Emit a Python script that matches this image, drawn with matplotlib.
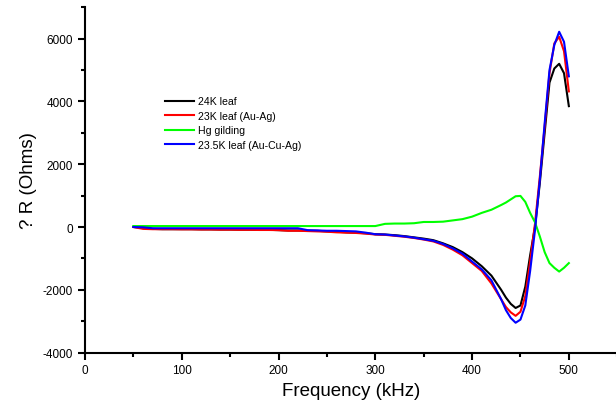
import matplotlib
matplotlib.use("Agg")
import matplotlib.pyplot as plt
from matplotlib.ticker import MultipleLocator

plt.rcParams['font.family'] = ['Liberation Sans', 'DejaVu Sans']
plt.rcParams['axes.unicode_minus'] = False

# frequency points (kHz)
freq = [50, 60, 70, 80, 90, 100, 110, 120, 130, 140, 150, 160, 170, 180, 190,
        200, 210, 220, 230, 240, 250, 260, 270, 280, 290, 300, 310, 320, 330,
        340, 350, 360, 370, 380, 390, 400, 410, 420, 430, 435, 440, 445, 450,
        455, 460, 465, 470, 475, 480, 485, 490, 495, 500]

# delta R (Ohms) for each sample
leaf_24k = [0, -30, -60, -70, -70, -70, -70, -75, -75, -80, -80, -85, -85, -90, -90,
            -100, -110, -110, -120, -120, -140, -150, -170, -180, -200, -230, -240, -260, -290,
            -330, -370, -420, -520, -640, -800, -1000, -1250, -1550, -2000, -2250, -2450, -2580, -2500,
            -1900, -900, 0, 1400, 3000, 4600, 5050, 5200, 4900, 3850]
leaf_23k = [0, -60, -70, -70, -70, -75, -75, -80, -80, -85, -85, -90, -90, -95, -95,
            -100, -120, -120, -130, -140, -150, -170, -180, -190, -210, -240, -250, -280, -310,
            -350, -400, -460, -570, -720, -900, -1150, -1400, -1800, -2300, -2550, -2720, -2830, -2700,
            -2200, -1100, 100, 1600, 3200, 4900, 5850, 6060, 5600, 4320]
hg_gilding = [30, 30, 30, 30, 30, 30, 30, 30, 30, 30, 30, 30, 30, 30, 30,
              30, 30, 30, 30, 30, 30, 30, 30, 30, 30, 30, 100, 110, 110,
              120, 160, 160, 170, 210, 250, 330, 450, 550, 700, 780, 880, 980, 990,
              800, 450, 150, -300, -800, -1150, -1300, -1420, -1300, -1150]
leaf_235k = [0, -10, -40, -40, -40, -40, -40, -40, -40, -40, -40, -40, -40, -40, -40,
             -40, -40, -40, -100, -110, -120, -120, -130, -140, -180, -230, -240, -270, -300,
             -340, -390, -440, -540, -680, -850, -1100, -1350, -1700, -2300, -2650, -2900, -3050, -2950,
             -2500, -1400, -100, 1500, 3300, 5000, 5800, 6220, 5900, 4800]

series = [
    (leaf_24k, 'black', '24K leaf'),
    (leaf_23k, 'red', '23K leaf (Au-Ag)'),
    (hg_gilding, '#00ff00', 'Hg gilding'),
    (leaf_235k, 'blue', '23.5K leaf (Au-Cu-Ag)'),
]

fig = plt.figure(figsize=(6.16, 4.14), dpi=100)
ax = fig.add_axes([0.138, 0.146, 0.864, 0.834])

for vals, col, lab in series:
    ax.plot(freq, vals, color=col, lw=1.5, label=lab)

ax.set_xlim(0, 550)
ax.set_ylim(-4000, 7000)
ax.xaxis.set_major_locator(MultipleLocator(100))
ax.xaxis.set_minor_locator(MultipleLocator(50))
ax.yaxis.set_major_locator(MultipleLocator(2000))
ax.yaxis.set_minor_locator(MultipleLocator(1000))

for s in ['top', 'right']:
    ax.spines[s].set_visible(False)
for s in ['left', 'bottom']:
    ax.spines[s].set_linewidth(1.5)
ax.tick_params(which='major', direction='out', length=5, width=1.5, labelsize=8.5)
ax.tick_params(which='minor', direction='out', length=3, width=1.5)

ax.set_xlabel('Frequency (kHz)', fontsize=13.5)
ax.set_ylabel('? R (Ohms)', fontsize=13.5)

ax.legend(loc='upper left', bbox_to_anchor=(0.14, 0.757), frameon=False, fontsize=7.6,
          handlelength=2.8, handletextpad=0.3, labelspacing=0.42, borderpad=0)

fig.savefig('out.png', dpi=100)
